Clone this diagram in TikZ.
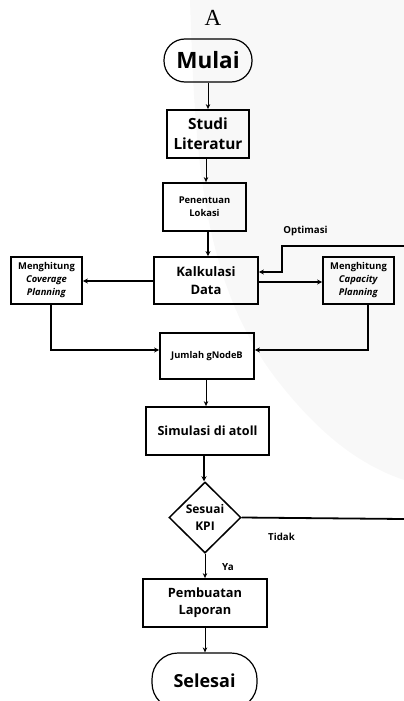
\documentclass[tikz,border=0pt]{standalone}
\usepackage{fontspec}
\setmainfont{Open Sans}
\newfontfamily\serifA{Liberation Serif}
\usetikzlibrary{shapes.geometric,arrows.meta,calc}
\definecolor{wm}{RGB}{248,248,248}
\begin{document}
\begin{tikzpicture}[x=1pt,y=-1pt,
  box/.style={draw,line width=1.8pt,inner sep=1pt,align=center,font=\bfseries},
  term/.style={draw,line width=1.2pt,rounded corners=21pt,align=center,font=\bfseries},
  thinarr/.style={line width=1pt,-{Stealth[length=5pt,width=4.5pt]}},
  thkarr/.style={line width=2pt,-{Stealth[length=5pt,width=5pt]}},
  lbl/.style={font=\bfseries\fontsize{9.7}{11}\selectfont,inner sep=0pt}
]
\useasboundingbox (0,0) rectangle (404,701);
\clip (0,0) rectangle (404,701);
% faint watermark
\fill[wm] (190,0) .. controls (195,150) and (200,280) .. (277,380) .. controls (320,435) and (360,465) .. (404,480) -- (404,0) -- cycle;

\node[font=\serifA\fontsize{23}{23}\selectfont,inner sep=0pt] (A) at (213,18) {A};

\node[term,minimum width=88pt,minimum height=43pt,font=\bfseries\fontsize{22.5}{24}\selectfont] (mulai) at (208,60.5) {Mulai};
\node[box,minimum width=82pt,minimum height=48pt,font=\bfseries\fontsize{15.4}{20}\selectfont] (studi) at (208,134) {Studi\\Literatur};
\node[box,minimum width=83pt,minimum height=48pt,font=\bfseries\fontsize{9.4}{13}\selectfont] (pen) at (204.5,207) {Penentuan\\Lokasi};
\node[box,minimum width=104pt,minimum height=47pt,font=\bfseries\fontsize{13}{18}\selectfont] (kalk) at (206,280.5) {Kalkulasi\\Data};
\node[box,minimum width=71pt,minimum height=47pt,font=\bfseries\fontsize{9.4}{13}\selectfont] (cov) at (46.5,280.5) {Menghitung\\\textit{Coverage}\\\textit{Planning}};
\node[box,minimum width=71pt,minimum height=47pt,font=\bfseries\fontsize{9.4}{13}\selectfont] (cap) at (358.5,280.5) {Menghitung\\\textit{Capacity}\\\textit{Planning}};
\node[box,minimum width=94pt,minimum height=46pt,font=\bfseries\fontsize{9.3}{12}\selectfont] (jum) at (207,356) {Jumlah gNodeB};
\node[box,minimum width=123pt,minimum height=48pt,font=\bfseries\fontsize{12.6}{16}\selectfont] (sim) at (207.5,431) {Simulasi di atoll};
\node[draw,diamond,line width=1.5pt,minimum width=72pt,minimum height=71pt,inner sep=0pt,align=center,font=\bfseries\fontsize{12}{17}\selectfont] (kpi) at (205,517.5) {Sesuai\\KPI};
\node[box,minimum width=124pt,minimum height=48pt,font=\bfseries\fontsize{12.8}{17}\selectfont] (lap) at (205,603) {Pembuatan\\Laporan};
\node[term,minimum width=105pt,minimum height=56pt,rounded corners=26pt,font=\bfseries\fontsize{18}{20}\selectfont] (sel) at (204.5,681) {Selesai};

% labels
\node[lbl] (opt) at (305.5,231) {Optimasi};
\node[lbl] (tidak) at (281.5,537) {Tidak};
\node[lbl,font=\bfseries\fontsize{9.8}{10}\selectfont] (ya) at (228,567) {Ya};

\coordinate (optR) at (404,246);
\coordinate (optC) at (282,272);
\coordinate (tidR) at (404,519);
\coordinate (kw) at ([yshift=-0.5pt]kalk.west);
\coordinate (ke) at ([yshift=-1.5pt]kalk.east);

% connectors
\draw[thinarr] (mulai.south) -- (mulai.south |- studi.north);
\draw[thinarr] ([xshift=-2pt]studi.south) -- ([xshift=-2pt]studi.south |- pen.north);
\draw[thkarr] ([xshift=3.5pt]pen.south) -- ([xshift=3.5pt]pen.south |- kalk.north);
\draw[thkarr,line width=1.8pt] (kw) -- (cov.east |- kw);
\draw[thkarr,line width=1.8pt] (ke) -- (cap.west |- ke);
\draw[thkarr] (optR) -| (optC) -- (kalk.east |- optC);
\draw[thkarr] ([xshift=4.5pt]cov.south) |- ([yshift=6pt]jum.west);
\draw[thkarr] ([xshift=9.5pt]cap.south) |- ([yshift=6pt]jum.east);
\draw[thinarr] ([xshift=-1pt]jum.south) -- ([xshift=-1pt]jum.south |- sim.north);
\draw[thkarr] ([xshift=-3.5pt]sim.south) -- ([xshift=-3.5pt]sim.south |- kpi.north);
\draw[line width=1.8pt] (kpi.east) -- (tidR);
\draw[thinarr] (kpi.south) -- (kpi.south |- lap.north);
\draw[thinarr] (lap.south) -- (lap.south |- sel.north);
\end{tikzpicture}
\end{document}
